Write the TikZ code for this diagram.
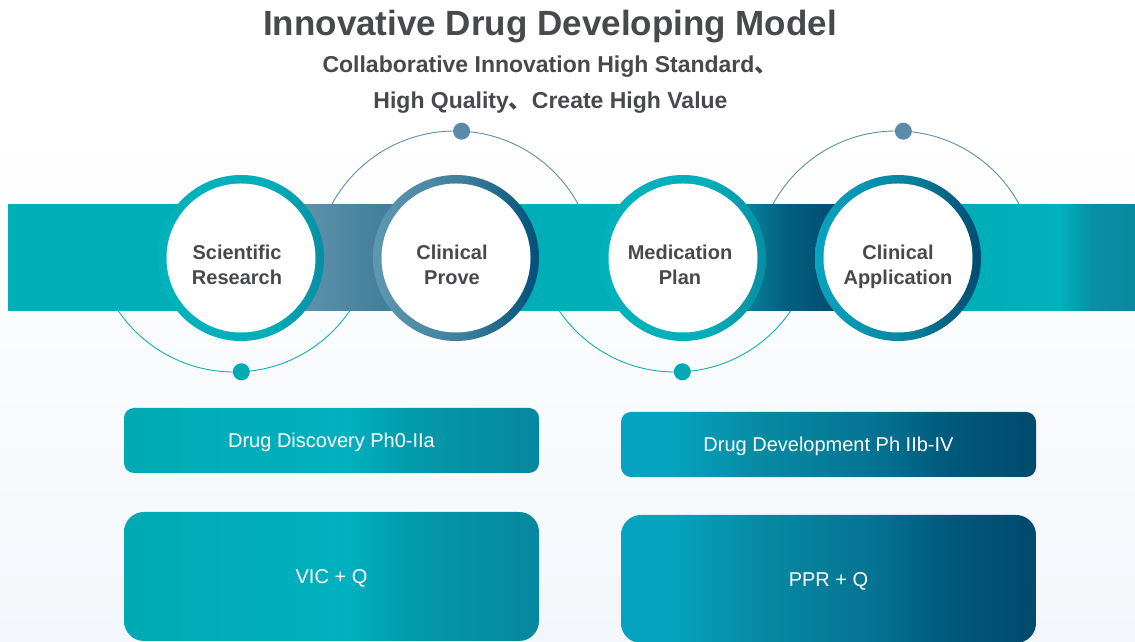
\documentclass[tikz,border=0pt]{standalone}
\usepackage{fontspec}
\setmainfont{Liberation Sans}
\newfontfamily\cjk{Noto Sans CJK SC}
\definecolor{txt}{HTML}{47494C}
\definecolor{teal0}{HTML}{00AEB8}
\definecolor{bgb}{HTML}{F3F7FB}
\definecolor{orbA}{HTML}{10AEBA}
\definecolor{orbB}{HTML}{5D8EAA}
\definecolor{dotA}{HTML}{00AAB5}
\definecolor{dotB}{HTML}{5A8BA8}
\definecolor{segAl}{HTML}{5E93AB}
\definecolor{segAr}{HTML}{3F7A98}
\definecolor{eR1}{HTML}{00B1BE}
\definecolor{eR2}{HTML}{0790A4}
\definecolor{eR3}{HTML}{07899E}
\definecolor{sB1}{HTML}{0A8FA7}
\definecolor{sB2}{HTML}{03607F}
\definecolor{sB3}{HTML}{014B6F}
\definecolor{rt1}{HTML}{00B2BC}
\definecolor{rt2}{HTML}{00AEB9}
\definecolor{rt3}{HTML}{078EA3}
\definecolor{rg1}{HTML}{5E98B0}
\definecolor{rg2}{HTML}{3F7F9C}
\definecolor{rg3}{HTML}{00507A}
\definecolor{rd1}{HTML}{0AA3C0}
\definecolor{rd2}{HTML}{0785A0}
\definecolor{rd3}{HTML}{014A6F}
\definecolor{bt1}{HTML}{00AAB3}
\definecolor{bt2}{HTML}{00B0BE}
\definecolor{bt3}{HTML}{0399AB}
\definecolor{bt4}{HTML}{0787A0}
\definecolor{bd1}{HTML}{06A3C0}
\definecolor{bd2}{HTML}{0789A2}
\definecolor{bd3}{HTML}{057494}
\definecolor{bd4}{HTML}{00587B}
\definecolor{bd5}{HTML}{004A6D}
\pgfdeclarehorizontalshading{segB}{100bp}{color(0bp)=(sB1); color(25bp)=(sB1); color(50bp)=(sB2); color(75bp)=(sB3); color(100bp)=(sB3)}
\pgfdeclarehorizontalshading{bandend}{100bp}{color(0bp)=(teal0); color(25bp)=(teal0); color(49bp)=(eR1); color(60bp)=(eR2); color(75bp)=(eR3); color(100bp)=(eR3)}
\pgfdeclarehorizontalshading{ringteal}{100bp}{color(0bp)=(rt1); color(25bp)=(rt1); color(58bp)=(rt2); color(75bp)=(rt3); color(100bp)=(rt3)}
\pgfdeclarehorizontalshading{ringgray}{100bp}{color(0bp)=(rg1); color(25bp)=(rg1); color(52bp)=(rg2); color(75bp)=(rg3); color(100bp)=(rg3)}
\pgfdeclarehorizontalshading{ringdark}{100bp}{color(0bp)=(rd1); color(25bp)=(rd1); color(52bp)=(rd2); color(75bp)=(rd3); color(100bp)=(rd3)}
\pgfdeclarehorizontalshading{boxteal}{100bp}{color(0bp)=(bt1); color(25bp)=(bt1); color(52bp)=(bt2); color(60bp)=(bt3); color(75bp)=(bt4); color(100bp)=(bt4)}
\pgfdeclarehorizontalshading{boxdark}{100bp}{color(0bp)=(bd1); color(25bp)=(bd1); color(31bp)=(bd1); color(42bp)=(bd2); color(55bp)=(bd3); color(65bp)=(bd4); color(75bp)=(bd5); color(100bp)=(bd5)}
\begin{document}
\begin{tikzpicture}[x=1pt,y=1pt,
  titlet/.style={font=\bfseries\fontsize{35}{40}\selectfont, text=txt, inner sep=0},
  subt/.style={font=\bfseries\fontsize{23}{28}\selectfont, text=txt, inner sep=0},
  orbitA/.style={draw=orbA, line width=0.9pt},
  orbitB/.style={draw=orbB, line width=0.9pt},
  dotnode/.style={circle, inner sep=0, minimum size=17pt},
  ringnode/.style={circle, inner sep=0, minimum size=166pt, shade},
  disc/.style={circle, inner sep=0, minimum size=149pt, fill=white},
  ctext/.style={font=\bfseries\fontsize{20}{25}\selectfont, text=txt, align=center, inner sep=0},
  boxnode/.style={shade, minimum width=415pt, inner sep=0, text=white, text height=14.3pt, text depth=0pt, font=\fontsize{20}{24}\selectfont}
]
\useasboundingbox (0,0) rectangle (1135,642);
\fill[white] (0,0) rectangle (1135,642);
\shade[top color=white, bottom color=bgb] (0,0) rectangle (1135,520);
% titles
\node[titlet] (title) at (550,615) {Innovative Drug Developing Model};
\node[subt] (sub1) at (550,575) {Collaborative Innovation High Standard{\cjk 、}};
\node[subt] (sub2) at (550.5,539) {High Quality{\cjk 、}Create High Value};
% orbits
\coordinate (o1) at (234,410);
\coordinate (o2) at (455,371);
\coordinate (o3) at (675,410);
\coordinate (o4) at (896,371);
\begin{scope}
\clip (0,0) rectangle (1135,331);
\draw[orbitA] (o1) circle[radius=140];
\draw[orbitA] (o3) circle[radius=140];
\end{scope}
\begin{scope}
\clip (0,437) rectangle (1135,642);
\draw[orbitB] (o2) circle[radius=140];
\draw[orbitB] (o4) circle[radius=140];
\end{scope}
\path (o1) ++(-87:140) node[dotnode, fill=dotA] (d1) {};
\path (o2) ++(87.3:140) node[dotnode, fill=dotB] (d2) {};
\path (o3) ++(-87:140) node[dotnode, fill=dotA] (d3) {};
\path (o4) ++(87:140) node[dotnode, fill=dotB] (d4) {};
% band
\begin{scope}
\clip (8,331) rectangle (1135,437);
\fill[teal0] (8,320) rectangle (1135,450);
\shade[left color=segAl, right color=segAr] (300,320) rectangle (400,450);
\shade[shading=segB] (730,320) rectangle (840,450);
\shade[shading=bandend] (990,320) rectangle (1135,450);
\end{scope}
% circles
\node[ringnode, shading=ringteal] (r1) at (241,384) {};
\node[ringnode, shading=ringgray] (r2) at (456,384) {};
\node[ringnode, shading=ringteal] (r3) at (683,384) {};
\node[ringnode, shading=ringdark] (r4) at (898,384) {};
\node[disc] (c1) at (r1) {};
\node[disc] (c2) at (r2) {};
\node[disc] (c3) at (r3) {};
\node[disc] (c4) at (r4) {};
\node[ctext] (t1) at (237,375.5) {Scientific\vphantom{Ap}\\Research\vphantom{Ap}};
\node[ctext] (t2) at (452,375.5) {Clinical\vphantom{Ap}\\Prove\vphantom{Ap}};
\node[ctext] (t3) at (680,375.5) {Medication\vphantom{Ap}\\Plan\vphantom{Ap}};
\node[ctext] (t4) at (898,375.5) {Clinical\vphantom{Ap}\\Application\vphantom{Ap}};
% boxes
\node[boxnode, shading=boxteal, rounded corners=10pt, minimum height=65pt] (bA) at (331.5,201.5) {Drug Discovery Ph0-IIa};
\node[boxnode, shading=boxteal, rounded corners=20pt, minimum height=129pt] (bB) at (331.5,65.5) {VIC + Q};
\node[boxnode, shading=boxdark, rounded corners=10pt, minimum height=65pt] (bC) at (828.5,197.5) {Drug Development Ph IIb-IV};
\node[boxnode, shading=boxdark, rounded corners=20pt, minimum height=128pt] (bD) at (828.5,63) {PPR + Q};
\end{tikzpicture}
\end{document}
